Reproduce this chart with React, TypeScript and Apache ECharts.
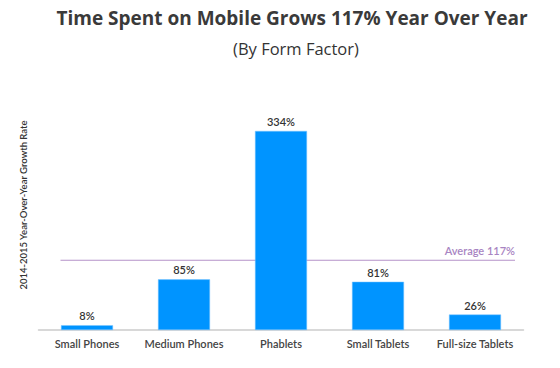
import React, { useEffect, useRef } from "react";
import * as echarts from "echarts";

const categories = ["Small Phones", "Medium Phones", "Phablets", "Small Tablets", "Full-size Tablets"];
const growth = [8, 85, 334, 81, 26];
const AVERAGE = 117;
const TITLE = "Time Spent on Mobile Grows 117% Year Over Year";
const SUBTITLE = "(By Form Factor)";
const Y_NAME = "2014-2015 Year-Over-Year Growth Rate";

const FONT = "Lato, 'Open Sans', sans-serif";
const TITLE_FONT = "'Open Sans', Lato, sans-serif";

export default function App() {
  const ref = useRef<HTMLDivElement>(null);
  useEffect(() => {
    if (!ref.current) return;
    const chart = echarts.init(ref.current, undefined, { renderer: "svg" });
    chart.setOption({
      animation: false,
      backgroundColor: "#ffffff",
      textStyle: { fontFamily: FONT },
      title: [
        {
          text: TITLE,
          left: 287,
          top: 3,
          textAlign: "center",
          textStyle: { fontFamily: TITLE_FONT, fontSize: 19, fontWeight: "bold", color: "#3a3a3a" },
        },
        {
          text: SUBTITLE,
          left: 291,
          top: 35,
          textAlign: "center",
          textStyle: { fontFamily: TITLE_FONT, fontSize: 16.5, fontWeight: "normal", color: "#333333" },
        },
      ],
      grid: { left: 38.5, right: 36.5, top: 121.4, bottom: 38 },
      xAxis: {
        type: "category",
        data: categories,
        axisLine: { show: true, lineStyle: { color: "#cccccc", width: 1.5 } },
        axisTick: { show: false },
        axisLabel: { interval: 0, color: "#444444", fontSize: 11, fontFamily: FONT, fontWeight: 600, margin: 8 },
      },
      yAxis: {
        type: "value",
        min: 0,
        max: 350,
        show: false,
        splitLine: { show: false },
      },
      series: [
        {
          type: "bar",
          data: growth,
          barWidth: 52,
          itemStyle: { color: "#0094ff", borderColor: "#7cc4ff", borderWidth: 0.5 },
          label: {
            show: true,
            position: "top",
            distance: 4,
            formatter: "{c}%",
            color: "#333333",
            fontSize: 11,
            fontFamily: FONT,
            fontWeight: 600,
          },
        },
      ],
    });
    const yAvg = chart.convertToPixel({ yAxisIndex: 0 }, AVERAGE) as number;
    chart.setOption({
      graphic: [
        {
          type: "line",
          shape: { x1: 60.5, y1: yAvg, x2: 515, y2: yAvg },
          style: { stroke: "#b592c9", lineWidth: 1.2 },
          z: 0,
        },
        {
          type: "text",
          x: 515,
          y: yAvg - 4,
          style: {
            text: `Average ${AVERAGE}%`,
            textAlign: "right",
            textVerticalAlign: "bottom",
            fill: "#a884c2",
            fontSize: 11,
            fontFamily: FONT,
            fontWeight: 600,
          },
        },
        {
          type: "text",
          x: 23,
          y: 205,
          rotation: Math.PI / 2,
          style: {
            text: Y_NAME,
            textAlign: "center",
            textVerticalAlign: "middle",
            fill: "#333333",
            fontSize: 9.5,
            fontFamily: FONT,
            fontWeight: 600,
          },
        },
      ],
    });
    return () => chart.dispose();
  }, []);
  return (
    <div
      ref={ref}
      style={{ position: "fixed", left: 0, top: 0, width: 560, height: 368, background: "#fff" }}
    />
  );
}
